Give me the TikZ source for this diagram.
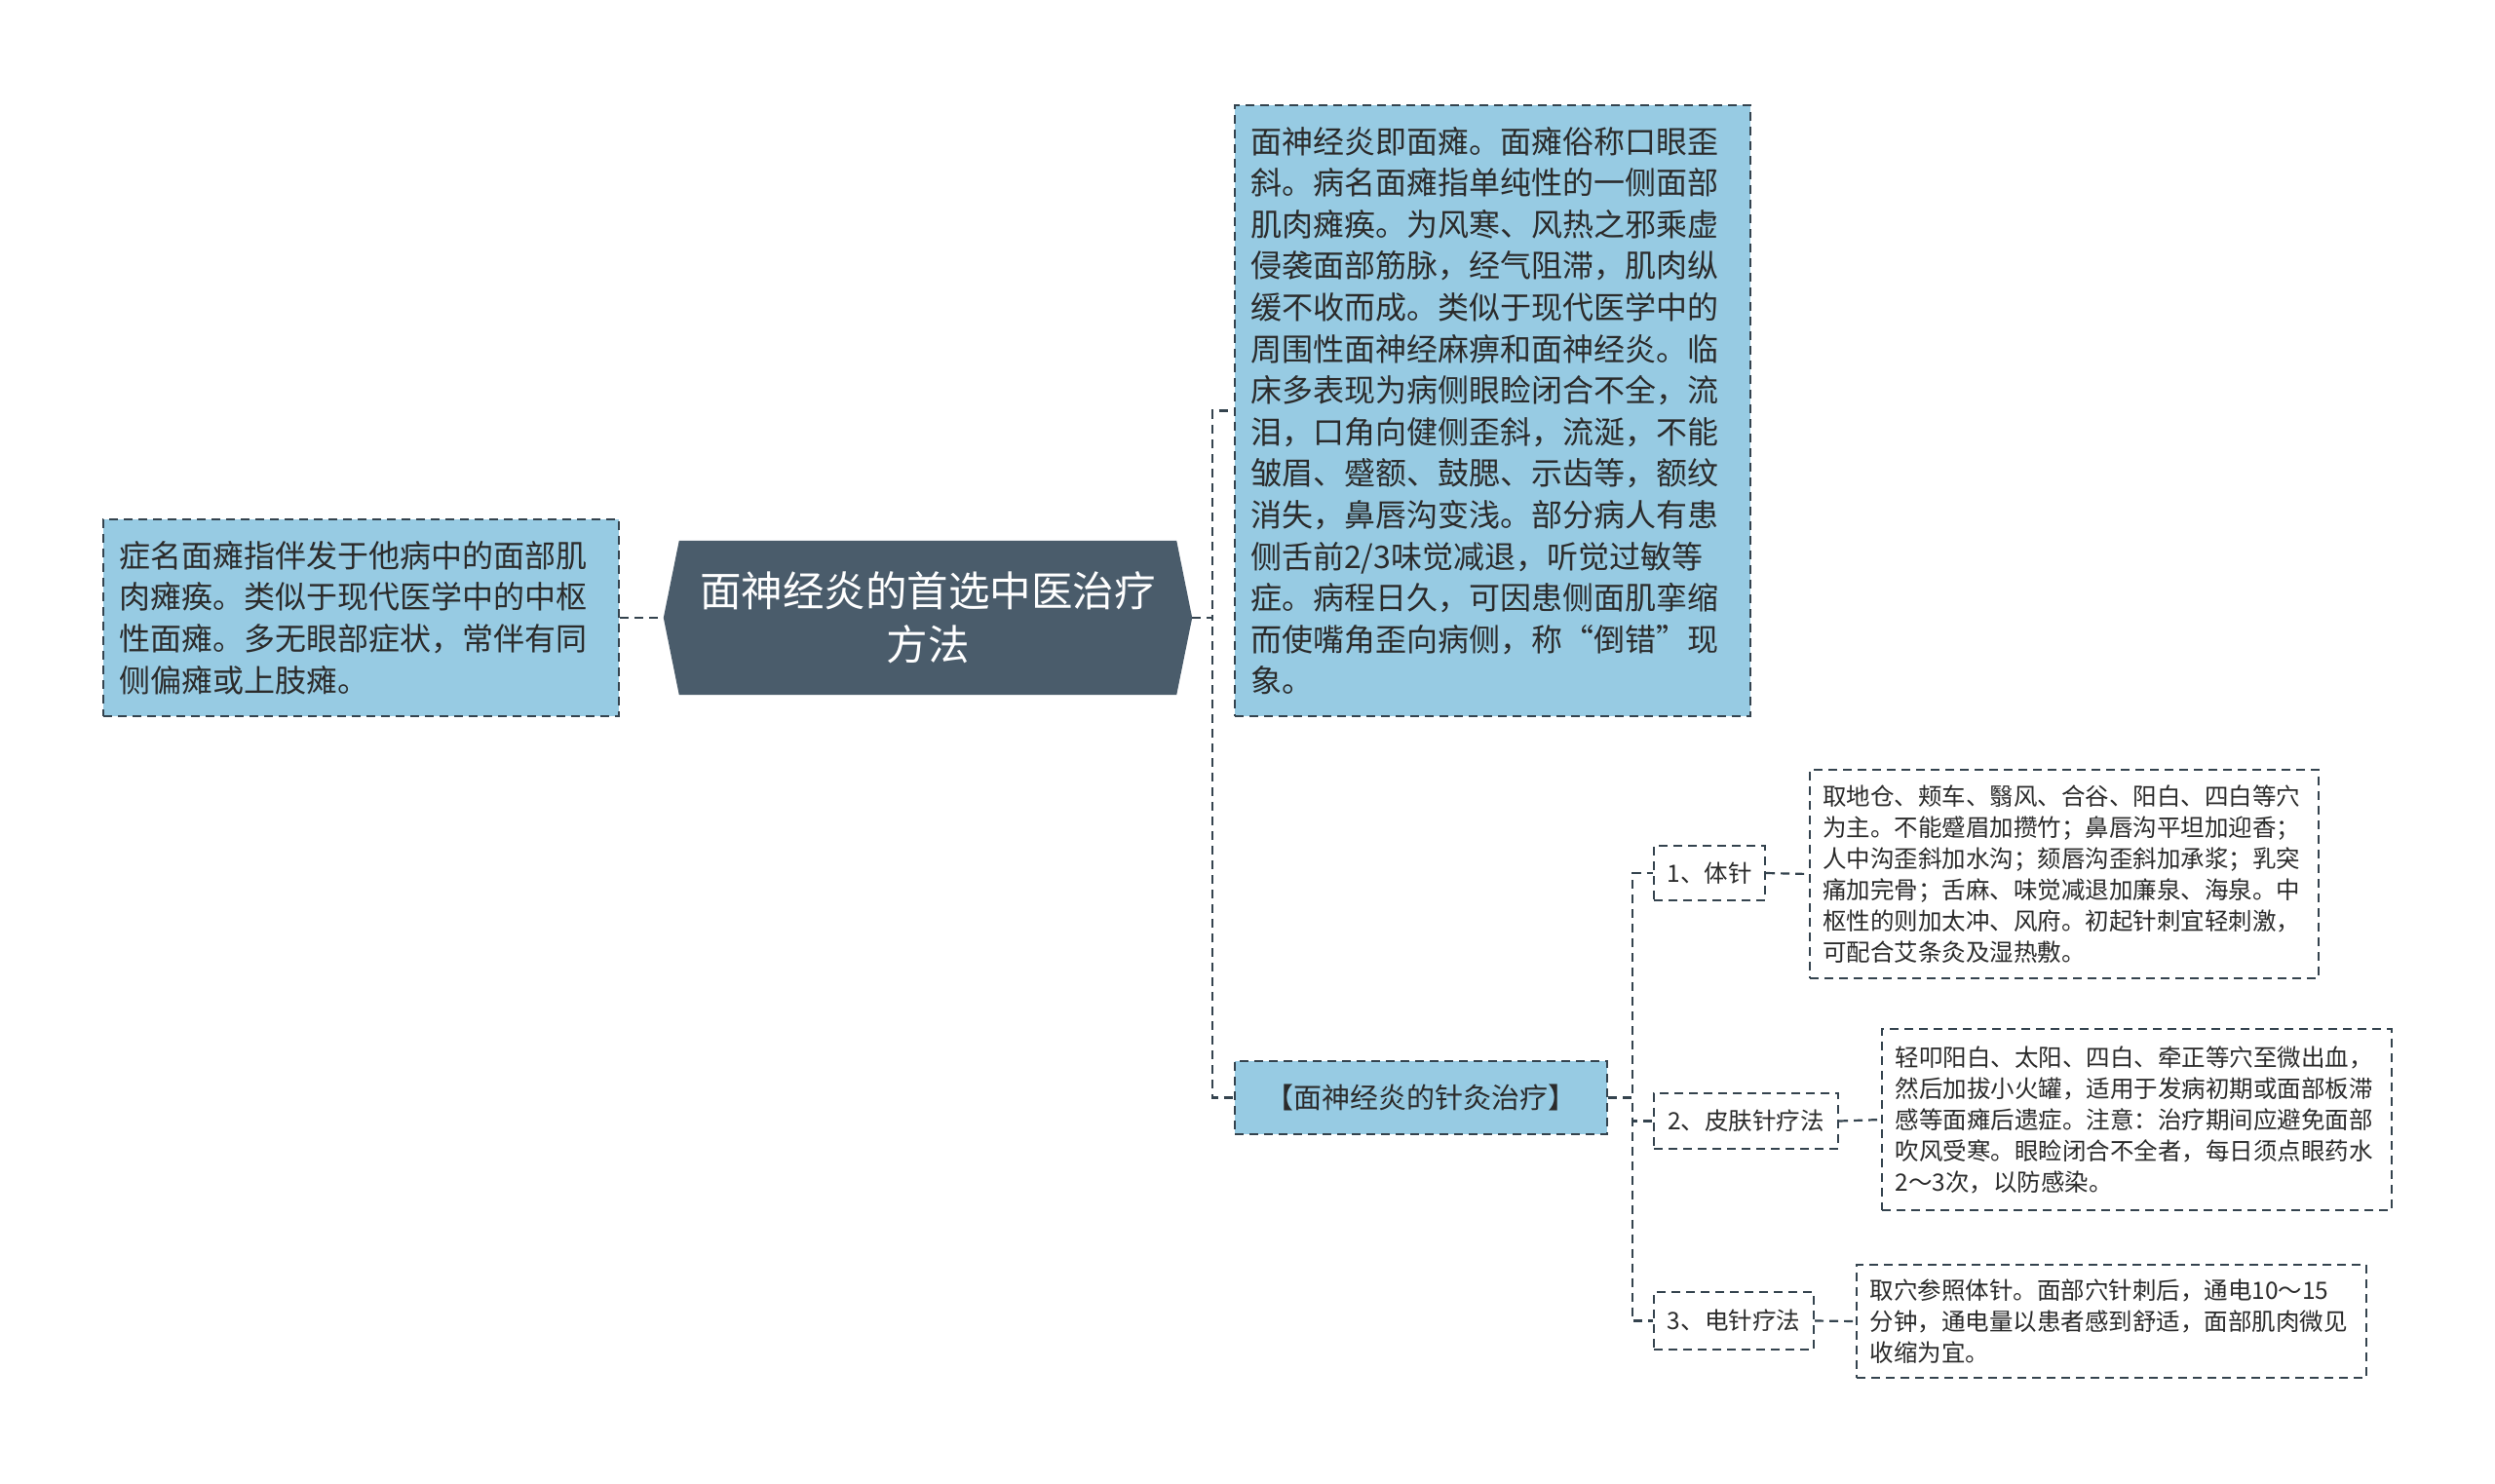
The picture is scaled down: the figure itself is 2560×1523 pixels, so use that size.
\documentclass[tikz,border=0pt]{standalone}
\usepackage{fontspec}
\setmainfont{Noto Sans CJK SC}
\usetikzlibrary{backgrounds}
\definecolor{boxblue}{HTML}{97CBE3}
\definecolor{hexfill}{HTML}{4A5C6B}
\definecolor{edge}{HTML}{34434E}
\definecolor{txt}{HTML}{2B2B2B}
\tikzset{
  dashline/.style={draw=edge, line width=2.2pt, dash pattern=on 9pt off 6pt},
  bluebox/.style={dashline, fill=boxblue, inner sep=0pt, text=txt, align=left},
  whitebox/.style={dashline, fill=white, inner sep=0pt, text=txt, align=left},
  conn/.style={dashline},
  bigtext/.style={font=\fontsize{32}{42.6}\selectfont, text width=497pt},
  smalltext/.style={font=\fontsize{24.5}{32}\selectfont, text width=496pt},
}
\begin{document}
\begin{tikzpicture}[x=1pt,y=-1pt]
\useasboundingbox (0,0) rectangle (2560,1523);

% left box
\node[bluebox, bigtext, minimum width=529pt, minimum height=202pt] (left) at (370.5,634)
{症名面瘫指伴发于他病中的面部肌\\肉瘫痪。类似于现代医学中的中枢\\性面瘫。多无眼部症状，常伴有同\\侧偏瘫或上肢瘫。};

% central hexagon
\node[inner sep=0pt, minimum width=542pt, minimum height=158pt, text=white, align=center,
      font=\fontsize{42.5}{55.5}\selectfont] (hex) at (952,634)
{面神经炎的首选中医治疗\\方法};
\begin{pgfonlayer}{background}
\fill[white] (0,0) rectangle (2560,1523);
\fill[hexfill] (hex.west) -- ([xshift=16pt]hex.north west) -- ([xshift=-16pt]hex.north east)
  -- (hex.east) -- ([xshift=-16pt]hex.south east) -- ([xshift=16pt]hex.south west) -- cycle;
\end{pgfonlayer}

% top right box
\node[bluebox, bigtext, minimum width=529pt, minimum height=627pt] (top) at (1531.5,421.5)
{面神经炎即面瘫。面瘫俗称口眼歪\\斜。病名面瘫指单纯性的一侧面部\\肌肉瘫痪。为风寒、风热之邪乘虚\\侵袭面部筋脉，经气阻滞，肌肉纵\\缓不收而成。类似于现代医学中的\\周围性面神经麻痹和面神经炎。临\\床多表现为病侧眼睑闭合不全，流\\泪，口角向健侧歪斜，流涎，不能\\皱眉、蹙额、鼓腮、示齿等，额纹\\消失，鼻唇沟变浅。部分病人有患\\侧舌前2/3味觉减退，听觉过敏等\\症。病程日久，可因患侧面肌挛缩\\而使嘴角歪向病侧，称“倒错”现\\象。};

% acupuncture box
\node[bluebox, align=center, minimum width=382pt, minimum height=75pt,
      font=\fontsize{29}{36}\selectfont] (acu) at (1458,1126.5)
{【面神经炎的针灸治疗】};

% method boxes
\node[whitebox, align=center, minimum width=114pt, minimum height=56pt,
      font=\fontsize{24.5}{32}\selectfont] (b1) at (1754,896) {1、体针};
\node[whitebox, align=center, minimum width=189pt, minimum height=57pt,
      font=\fontsize{24.5}{32}\selectfont] (b2) at (1791.5,1150.5) {2、皮肤针疗法};
\node[whitebox, align=center, minimum width=164pt, minimum height=59pt,
      font=\fontsize{24.5}{32}\selectfont] (b3) at (1779,1355.5) {3、电针疗法};

% detail boxes
\node[whitebox, smalltext, minimum width=522pt, minimum height=214pt] (d1) at (2118,897)
{取地仓、颊车、翳风、合谷、阳白、四白等穴\\为主。不能蹙眉加攒竹；鼻唇沟平坦加迎香；\\人中沟歪斜加水沟；颏唇沟歪斜加承浆；乳突\\痛加完骨；舌麻、味觉减退加廉泉、海泉。中\\枢性的则加太冲、风府。初起针刺宜轻刺激，\\可配合艾条灸及湿热敷。};
\node[whitebox, smalltext, minimum width=523pt, minimum height=186pt] (d2) at (2192.5,1149)
{轻叩阳白、太阳、四白、牵正等穴至微出血，\\然后加拔小火罐，适用于发病初期或面部板滞\\感等面瘫后遗症。注意：治疗期间应避免面部\\吹风受寒。眼睑闭合不全者，每日须点眼药水\\2～3次，以防感染。};
\node[whitebox, smalltext, minimum width=523pt, minimum height=116pt] (d3) at (2166.5,1356)
{取穴参照体针。面部穴针刺后，通电10～15\\分钟，通电量以患者感到舒适，面部肌肉微见\\收缩为宜。};

% connectors
\draw[conn] (left.east) -- (hex.west);
\draw[conn] (hex.east) -- ++(21,0) |- (top.west);
\draw[conn] (hex.east) -- ++(21,0) |- (acu.west);
\draw[conn] (acu.east) -- ++(25,0) |- (b1.west);
\draw[conn] (acu.east) -- ++(25,0) |- (b2.west);
\draw[conn] (acu.east) -- ++(25,0) |- (b3.west);
\draw[conn] (b1.east) -- (d1.west);
\draw[conn] (b2.east) -- (d2.west);
\draw[conn] (b3.east) -- (d3.west);
\end{tikzpicture}
\end{document}
